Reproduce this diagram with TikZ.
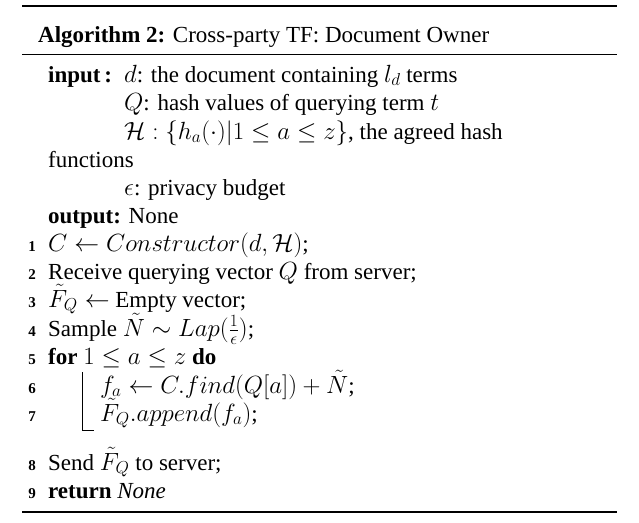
\documentclass[tikz,border=0pt]{standalone}
\usepackage{fontspec}
\setmainfont{Liberation Serif}
\begin{document}
\begin{tikzpicture}[x=1pt,y=-1pt,
  t/.style={anchor=base west,inner sep=0pt,font=\fontsize{23}{27}\selectfont},
  n/.style={anchor=base east,inner sep=0pt,font=\fontsize{15}{17}\selectfont\bfseries}]
\useasboundingbox (0,0) rectangle (639,522);
\draw[line width=1.6pt] (22,6) -- (617,6);
\draw[line width=0.6pt] (22,54) -- (617,54);
\draw[line width=1.6pt] (22,512) -- (617,512);
\node[t] (cap) at (38,42) {\textbf{Algorithm 2:} Cross-party TF: Document Owner};
\node[t] (in) at (48,82) {\textbf{input\,:}};
\node[t] (i1) at (124,82) {$d$: the document containing $l_d$ terms};
\node[t] (i2) at (124,110) {$Q$: hash values of querying term $t$};
\node[t] (i3) at (124,139) {$\mathcal{H}:\{h_a(\cdot)|1\le a\le z\}$, the agreed hash};
\node[t] (i4) at (48,167) {functions};
\node[t] (i5) at (124,195) {$\epsilon$: privacy budget};
\node[t] (out) at (48,223) {\textbf{output:} None};
\node[n] (n1) at (36,251) {1}; \node[t] (l1) at (48,251) {$C\leftarrow Constructor(d,\mathcal{H})$;};
\node[n] (n2) at (36,279) {2}; \node[t] (l2) at (48,279) {Receive querying vector $Q$ from server;};
\node[n] (n3) at (36,307) {3}; \node[t] (l3) at (48,307) {$\tilde{F}_Q\leftarrow$ Empty vector;};
\node[n] (n4) at (36,336) {4}; \node[t] (l4) at (48,336) {Sample $\tilde{N}\sim Lap(\frac{1}{\epsilon})$;};
\node[n] (n5) at (36,364) {5}; \node[t] (l5) at (48,364) {\textbf{for} $1\le a\le z$ \textbf{do}};
\node[n] (n6) at (36,393) {6}; \node[t] (l6) at (100,393) {$f_a\leftarrow C.find(Q[a])+\tilde{N}$;};
\node[n] (n7) at (36,421) {7}; \node[t] (l7) at (100,421) {$\tilde{F}_Q.append(f_a)$;};
\node[n] (n8) at (36,470) {8}; \node[t] (l8) at (48,470) {Send $\tilde{F}_Q$ to server;};
\node[n] (n9) at (36,498) {9}; \node[t] (l9) at (48,498) {\textbf{return} \textit{None}};
\coordinate (bt) at (82,372); \coordinate (bb) at (82,430); \coordinate (be) at (94,430);
\draw[line width=0.6pt] (bt) -- (bb) -- (be);
\end{tikzpicture}
\end{document}
